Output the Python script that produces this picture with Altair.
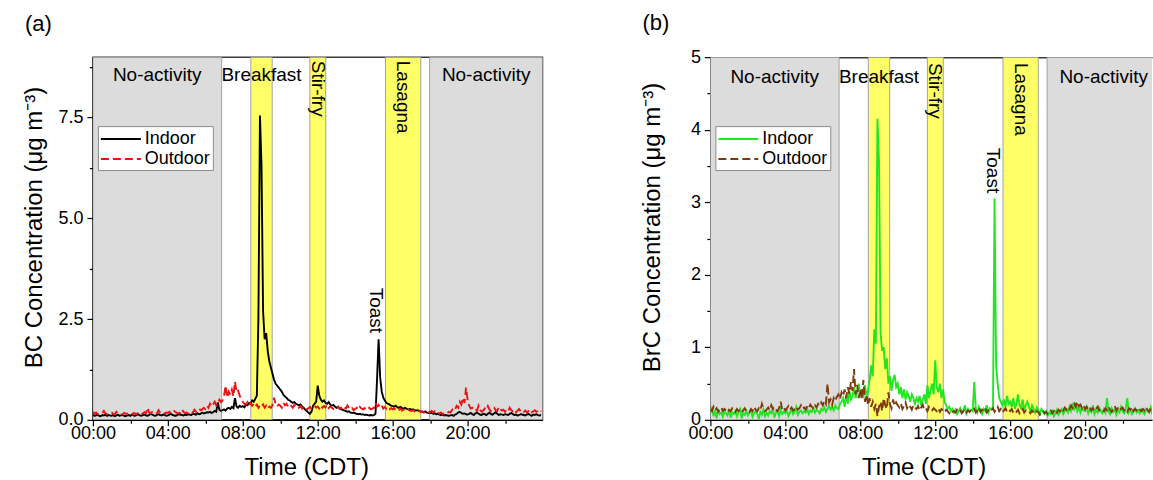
import altair as alt
import pandas as pd

FONT = "Liberation Sans"
STEP_MIN = 5  # one value every 5 minutes, 00:00 .. 23:55

# ---------------- panel (a): BC, 5-min values, one row per hour ----------------
BC_INDOOR = [
    0.12, 0.10, 0.11, 0.13, 0.10, 0.09, 0.12, 0.11, 0.13, 0.10, 0.12, 0.11,
    0.10, 0.12, 0.09, 0.11, 0.13, 0.10, 0.11, 0.12, 0.10, 0.09, 0.11, 0.12,
    0.10, 0.13, 0.11, 0.10, 0.12, 0.14, 0.11, 0.10, 0.12, 0.13, 0.11, 0.10,
    0.12, 0.15, 0.13, 0.11, 0.10, 0.12, 0.14, 0.12, 0.11, 0.13, 0.12, 0.10,
    0.11, 0.13, 0.15, 0.12, 0.11, 0.10, 0.12, 0.14, 0.13, 0.12, 0.11, 0.13,
    0.12, 0.14, 0.13, 0.12, 0.15, 0.14, 0.13, 0.16, 0.14, 0.15, 0.18, 0.16,
    0.17, 0.19, 0.18, 0.20, 0.17, 0.19, 0.22, 0.20, 0.43, 0.25, 0.22, 0.24,
    0.26, 0.23, 0.28, 0.30, 0.27, 0.32, 0.29, 0.54, 0.33, 0.30, 0.35, 0.32,
    0.34, 0.31, 0.38, 0.36, 0.42, 0.40, 0.48, 0.45, 0.52, 0.60, 2.50, 7.55,
    6.30, 2.70, 2.00, 2.15, 1.70, 1.45, 1.30, 1.15, 1.00, 0.90, 0.85, 0.80,
    0.75, 0.70, 0.62, 0.58, 0.55, 0.50, 0.48, 0.45, 0.42, 0.44, 0.40, 0.38,
    0.36, 0.38, 0.33, 0.30, 0.25, 0.22, 0.18, 0.15, 0.20, 0.35, 0.40, 0.45,
    0.85, 0.60, 0.50, 0.45, 0.48, 0.42, 0.40, 0.44, 0.38, 0.35, 0.37, 0.33,
    0.30, 0.32, 0.28, 0.26, 0.25, 0.23, 0.22, 0.20, 0.21, 0.18, 0.17, 0.18,
    0.16, 0.15, 0.14, 0.15, 0.13, 0.14, 0.12, 0.13, 0.12, 0.11, 0.12, 0.11,
    0.12, 0.15, 1.00, 2.00, 1.05, 0.70, 0.55, 0.48, 0.42, 0.40, 0.38, 0.35,
    0.34, 0.33, 0.35, 0.31, 0.30, 0.32, 0.29, 0.28, 0.30, 0.27, 0.26, 0.27,
    0.25, 0.26, 0.24, 0.23, 0.24, 0.22, 0.21, 0.20, 0.19, 0.21, 0.18, 0.17,
    0.18, 0.17, 0.15, 0.16, 0.14, 0.15, 0.13, 0.12, 0.13, 0.11, 0.12, 0.11,
    0.10, 0.11, 0.12, 0.10, 0.13, 0.15, 0.18, 0.20, 0.17, 0.15, 0.16, 0.14,
    0.13, 0.15, 0.17, 0.14, 0.12, 0.16, 0.18, 0.15, 0.13, 0.12, 0.15, 0.14,
    0.12, 0.15, 0.18, 0.14, 0.13, 0.16, 0.19, 0.15, 0.12, 0.14, 0.13, 0.12,
    0.14, 0.13, 0.12, 0.15, 0.17, 0.14, 0.12, 0.13, 0.11, 0.12, 0.14, 0.13,
    0.12, 0.11, 0.13, 0.15, 0.12, 0.10, 0.13, 0.12, 0.14, 0.12, 0.11, 0.12,
]

BC_OUTDOOR = [
    0.20, 0.15, 0.18, 0.14, 0.16, 0.15, 0.17, 0.22, 0.16, 0.14, 0.15, 0.17,
    0.18, 0.15, 0.14, 0.20, 0.16, 0.15, 0.13, 0.14, 0.17, 0.15, 0.16, 0.14,
    0.15, 0.13, 0.17, 0.16, 0.14, 0.18, 0.15, 0.14, 0.16, 0.19, 0.17, 0.30,
    0.18, 0.16, 0.20, 0.17, 0.15, 0.16, 0.24, 0.18, 0.15, 0.17, 0.16, 0.18,
    0.17, 0.20, 0.16, 0.18, 0.22, 0.19, 0.17, 0.16, 0.18, 0.26, 0.20, 0.17,
    0.18, 0.16, 0.19, 0.21, 0.18, 0.25, 0.20, 0.22, 0.28, 0.24, 0.26, 0.30,
    0.27, 0.35, 0.30, 0.40, 0.33, 0.38, 0.45, 0.36, 0.42, 0.50, 0.44, 0.48,
    0.60, 0.85, 0.55, 0.70, 0.62, 0.75, 0.58, 0.95, 0.68, 0.72, 0.60, 0.52,
    0.45, 0.40, 0.38, 0.44, 0.36, 0.42, 0.35, 0.40, 0.33, 0.38, 0.30, 0.36,
    0.32, 0.38, 0.30, 0.35, 0.28, 0.33, 0.30, 0.36, 0.55, 0.40, 0.33, 0.38,
    0.35, 0.30, 0.42, 0.36, 0.40, 0.33, 0.38, 0.35, 0.30, 0.37, 0.32, 0.28,
    0.30, 0.34, 0.28, 0.33, 0.30, 0.26, 0.29, 0.32, 0.27, 0.30, 0.35, 0.30,
    0.33, 0.28, 0.36, 0.30, 0.34, 0.31, 0.38, 0.29, 0.33, 0.30, 0.27, 0.31,
    0.29, 0.33, 0.27, 0.30, 0.25, 0.31, 0.28, 0.36, 0.30, 0.26, 0.29, 0.24,
    0.27, 0.30, 0.25, 0.32, 0.28, 0.26, 0.29, 0.24, 0.27, 0.30, 0.26, 0.28,
    0.30, 0.42, 0.33, 0.37, 0.30, 0.35, 0.28, 0.32, 0.27, 0.30, 0.26, 0.29,
    0.26, 0.29, 0.24, 0.27, 0.25, 0.28, 0.23, 0.26, 0.24, 0.22, 0.25, 0.23,
    0.22, 0.24, 0.21, 0.23, 0.20, 0.22, 0.19, 0.21, 0.18, 0.20, 0.22, 0.19,
    0.20, 0.22, 0.18, 0.21, 0.17, 0.19, 0.15, 0.18, 0.14, 0.16, 0.19, 0.17,
    0.20, 0.18, 0.24, 0.30, 0.26, 0.35, 0.30, 0.45, 0.38, 0.55, 0.42, 0.80,
    0.50, 0.35, 0.28, 0.30, 0.24, 0.27, 0.22, 0.35, 0.25, 0.20, 0.23, 0.28,
    0.24, 0.34, 0.26, 0.22, 0.28, 0.30, 0.24, 0.22, 0.32, 0.27, 0.23, 0.25,
    0.20, 0.26, 0.22, 0.30, 0.24, 0.21, 0.25, 0.19, 0.23, 0.27, 0.21, 0.24,
    0.20, 0.23, 0.18, 0.22, 0.25, 0.19, 0.21, 0.24, 0.20, 0.22, 0.26, 0.21,
]

# ---------------- panel (b): BrC, 5-min values, one row per hour ----------------
BRC_INDOOR = [
    0.10, 0.18, 0.05, 0.12, 0.02, 0.15, 0.08, 0.10, 0.04, 0.12, 0.09, 0.06,
    0.14, 0.03, 0.10, 0.08, 0.12, 0.05, 0.11, 0.15, 0.02, 0.09, 0.07, 0.12,
    0.06, 0.10, 0.13, 0.04, 0.09, 0.12, 0.08, 0.02, 0.11, 0.07, 0.14, 0.05,
    0.10, 0.06, 0.12, 0.09, 0.15, 0.03, 0.10, 0.12, 0.05, 0.14, 0.08, 0.11,
    0.09, 0.13, 0.05, 0.10, 0.15, 0.08, 0.12, 0.18, 0.07, 0.11, 0.13, 0.09,
    0.12, 0.10, 0.15, 0.08, 0.13, 0.11, 0.16, 0.10, 0.14, 0.12, 0.09, 0.15,
    0.13, 0.17, 0.11, 0.15, 0.19, 0.14, 0.18, 0.13, 0.20, 0.16, 0.15, 0.22,
    0.25, 0.30, 0.18, 0.35, 0.22, 0.40, 0.28, 0.33, 0.45, 0.30, 0.38, 0.50,
    0.35, 0.42, 0.30, 0.48, 0.33, 0.40, 0.55, 0.75, 0.60, 1.25, 1.05, 4.15,
    3.55, 1.20, 0.95, 1.00, 0.70, 0.85, 0.50, 0.60, 0.40, 0.55, 0.62, 0.45,
    0.50, 0.35, 0.45, 0.30, 0.42, 0.28, 0.38, 0.33, 0.25, 0.35, 0.30, 0.22,
    0.30, 0.25, 0.33, 0.20, 0.28, 0.35, 0.22, 0.48, 0.30, 0.40, 0.50, 0.35,
    0.82, 0.45, 0.38, 0.50, 0.30, 0.42, 0.25, 0.20, 0.15, 0.18, 0.12, 0.15,
    0.10, 0.14, 0.08, 0.12, 0.16, 0.10, 0.13, 0.20, 0.09, 0.15, 0.11, 0.14,
    0.12, 0.52, 0.15, 0.10, 0.18, 0.13, 0.08, 0.15, 0.12, 0.20, 0.10, 0.16,
    0.14, 0.18, 3.05, 0.75, 0.50, 0.30, 0.25, 0.20, 0.28, 0.18, 0.33, 0.22,
    0.25, 0.18, 0.30, 0.15, 0.22, 0.35, 0.20, 0.16, 0.28, 0.14, 0.20, 0.25,
    0.18, 0.12, 0.20, 0.15, 0.10, 0.17, 0.13, 0.09, 0.15, 0.11, 0.08, 0.12,
    0.06, 0.10, 0.08, 0.12, 0.05, 0.09, 0.14, 0.07, 0.11, 0.15, 0.08, 0.12,
    0.14, 0.10, 0.18, 0.12, 0.20, 0.15, 0.24, 0.12, 0.18, 0.10, 0.16, 0.13,
    0.12, 0.18, 0.09, 0.15, 0.11, 0.20, 0.08, 0.14, 0.10, 0.17, 0.12, 0.09,
    0.15, 0.10, 0.30, 0.12, 0.08, 0.16, 0.11, 0.14, 0.07, 0.13, 0.10, 0.18,
    0.12, 0.09, 0.15, 0.30, 0.10, 0.14, 0.08, 0.12, 0.16, 0.10, 0.13, 0.09,
    0.14, 0.11, 0.08, 0.15, 0.12, 0.10, 0.17, 0.09, 0.13, 0.11, 0.14, 0.12,
]

BRC_OUTDOOR = [
    0.15, 0.12, 0.18, 0.13, 0.16, 0.11, 0.14, 0.17, 0.12, 0.15, 0.13, 0.10,
    0.14, 0.12, 0.16, 0.13, 0.11, 0.15, 0.12, 0.14, 0.10, 0.13, 0.16, 0.12,
    0.13, 0.11, 0.15, 0.12, 0.18, 0.14, 0.12, 0.16, 0.13, 0.22, 0.15, 0.12,
    0.14, 0.17, 0.13, 0.20, 0.15, 0.18, 0.14, 0.12, 0.16, 0.25, 0.14, 0.17,
    0.13, 0.16, 0.19, 0.14, 0.17, 0.13, 0.15, 0.18, 0.14, 0.16, 0.20, 0.15,
    0.17, 0.14, 0.19, 0.16, 0.21, 0.18, 0.15, 0.20, 0.17, 0.22, 0.19, 0.24,
    0.20, 0.26, 0.22, 0.50, 0.24, 0.28, 0.21, 0.30, 0.26, 0.32, 0.35, 0.28,
    0.38, 0.33, 0.42, 0.30, 0.45, 0.36, 0.52, 0.40, 0.70, 0.35, 0.48, 0.30,
    0.42, 0.28, 0.55, 0.25, 0.35, 0.20, 0.30, 0.18, 0.25, 0.15, 0.22, 0.05,
    0.18, 0.25, 0.12, 0.30, 0.20, 0.15, 0.38, 0.22, 0.16, 0.28, 0.19, 0.24,
    0.20, 0.17, 0.22, 0.15, 0.19, 0.24, 0.16, 0.21, 0.18, 0.14, 0.20, 0.17,
    0.15, 0.19, 0.13, 0.17, 0.21, 0.14, 0.16, 0.12, 0.18, 0.15, 0.13, 0.16,
    0.14, 0.12, 0.16, 0.11, 0.15, 0.13, 0.10, 0.14, 0.12, 0.09, 0.13, 0.11,
    0.12, 0.10, 0.14, 0.11, 0.13, 0.09, 0.12, 0.15, 0.10, 0.13, 0.11, 0.14,
    0.12, 0.15, 0.10, 0.13, 0.17, 0.11, 0.14, 0.12, 0.16, 0.10, 0.13, 0.15,
    0.13, 0.16, 0.11, 0.14, 0.18, 0.12, 0.15, 0.10, 0.13, 0.16, 0.11, 0.14,
    0.12, 0.15, 0.10, 0.13, 0.11, 0.14, 0.09, 0.12, 0.15, 0.10, 0.13, 0.11,
    0.12, 0.09, 0.13, 0.10, 0.08, 0.12, 0.11, 0.07, 0.10, 0.13, 0.09, 0.11,
    0.08, 0.11, 0.13, 0.09, 0.12, 0.15, 0.10, 0.14, 0.12, 0.16, 0.13, 0.17,
    0.14, 0.18, 0.15, 0.20, 0.16, 0.22, 0.18, 0.25, 0.19, 0.21, 0.16, 0.20,
    0.15, 0.18, 0.14, 0.17, 0.13, 0.16, 0.12, 0.15, 0.18, 0.13, 0.16, 0.14,
    0.12, 0.16, 0.13, 0.18, 0.14, 0.11, 0.15, 0.19, 0.13, 0.16, 0.12, 0.15,
    0.17, 0.13, 0.15, 0.11, 0.16, 0.14, 0.18, 0.12, 0.15, 0.13, 0.17, 0.14,
    0.12, 0.15, 0.13, 0.17, 0.14, 0.11, 0.16, 0.13, 0.15, 0.12, 0.18, 0.14,
]

# ---------------- activity periods (hours of day) ----------------
PERIOD_START = [0.0, 8.43, 11.58, 15.62, 17.97]
PERIOD_END = [6.87, 9.57, 12.43, 17.50, 24.0]
PERIOD_FILL = ["#dcdcdc", "#ffff66", "#ffff66", "#ffff66", "#dcdcdc"]

H_LABELS = ["No-activity", "Breakfast", "No-activity"]
H_LABEL_X = [3.43, 9.0, 20.99]
V_LABELS = ["Stir-fry", "Lasagna", "Toast"]
V_LABEL_X = [12.0, 16.56, 15.1]

SERIES = ["Indoor", "Outdoor"]
X_MAJOR = [0, 4, 8, 12, 16, 20]
X_MINOR = [2, 6, 10, 14, 18, 22]


def panel(tag, ytitle, indoor, outdoor, colors, ymax, y_major, y_minor, label_fmt,
          x_max, width, h_y, v_y, ytitle_x, boxed, title_offset):
    n = len(indoor)
    times = [i * STEP_MIN / 60 for i in range(n)]
    xs = alt.Scale(domain=[0, x_max], nice=False, zero=False)
    ys = alt.Scale(domain=[0, ymax], nice=False, zero=False)

    common = dict(tickColor="black", tickWidth=1.2, grid=False, labelFont=FONT,
                  labelFontSize=18, labelColor="black", labelFlush=False, labelOverlap=False)

    x_axis = alt.Axis(
        orient="bottom", values=X_MAJOR, tickSize=6, domainColor="black", domainWidth=1.5,
        labelExpr="(datum.value < 10 ? '0' : '') + datum.value + ':00'",
        labelPadding=13, labelBaseline="alphabetic",
        title="Time (CDT)", titleFont=FONT, titleFontSize=24, titleFontWeight="normal",
        titleColor="black", titleX=213.5, titleY=55, titleAlign="center",
        titleBaseline="alphabetic", **common,
    )
    x_minor_axis = alt.Axis(orient="bottom", values=X_MINOR, tickSize=3.5, labels=False,
                            domain=False, title=None, **common)
    y_axis = alt.Axis(
        orient="left", values=y_major, tickSize=6, domainColor="black", domainWidth=1.5,
        format=label_fmt, labelPadding=4,
        title=ytitle, titleFont=FONT, titleFontSize=24, titleFontWeight="normal",
        titleColor="black", titleX=ytitle_x, titleY=170, titleAngle=270,
        titleAlign="center", titleBaseline="middle", **common,
    )
    y_minor_axis = alt.Axis(orient="left", values=y_minor, tickSize=3.5, labels=False,
                            domain=False, title=None, **common)
    top_axis = alt.Axis(orient="top", labels=False, ticks=False, domain=True,
                        domainColor="#3c3c3c", domainWidth=1.5, title=None, grid=False)

    bands = pd.DataFrame({"start": PERIOD_START, "end": PERIOD_END, "fill": PERIOD_FILL,
                          "y0": [0] * 5, "y1": [ymax] * 5})
    band_layer = alt.Chart(bands).mark_rect(stroke="#a3a3a3", strokeWidth=1, clip=True).encode(
        x=alt.X("start:Q", scale=xs, axis=x_minor_axis),
        x2="end:Q",
        y=alt.Y("y0:Q", scale=ys, axis=y_minor_axis),
        y2="y1:Q",
        fill=alt.Fill("fill:N", scale=None),
    )

    hlab = pd.DataFrame({"x": H_LABEL_X, "y": [h_y] * 3, "label": H_LABELS})
    vlab = pd.DataFrame({"x": V_LABEL_X, "y": v_y, "label": V_LABELS})
    h_layer = alt.Chart(hlab).mark_text(font=FONT, fontSize=19, color="black", align="center",
                                        baseline="alphabetic").encode(
        x=alt.X("x:Q", scale=xs, axis=None if boxed else top_axis),
        y=alt.Y("y:Q", scale=ys, axis=None), text="label:N")
    v_layer = alt.Chart(vlab).mark_text(font=FONT, fontSize=19, color="black", align="left",
                                        baseline="middle", angle=90).encode(
        x=alt.X("x:Q", scale=xs, axis=None), y=alt.Y("y:Q", scale=ys, axis=None), text="label:N")

    legend = alt.Legend(
        title=None, orient="none", legendX=5, legendY=69, direction="vertical",
        symbolType="M-1,0L3,0", symbolSize=400, symbolStrokeWidth=2,
        labelFont=FONT, labelFontSize=18, labelColor="black", labelOffset=23,
        padding=2, rowPadding=0, strokeColor="#8c8c8c", fillColor="white", cornerRadius=0,
    )
    color = alt.Color("series:N", scale=alt.Scale(domain=SERIES, range=colors), legend=legend)
    dash = alt.StrokeDash("series:N", scale=alt.Scale(domain=SERIES, range=[[1, 0], [8, 4]]),
                          legend=legend)

    df_in = pd.DataFrame({"t": times, "v": indoor, "series": ["Indoor"] * n})
    df_out = pd.DataFrame({"t": times, "v": outdoor, "series": ["Outdoor"] * n})
    in_layer = alt.Chart(df_in).mark_line(strokeWidth=1.9, clip=True).encode(
        x=alt.X("t:Q", scale=xs, axis=x_axis), y=alt.Y("v:Q", scale=ys, axis=y_axis),
        color=color, strokeDash=dash)
    out_layer = alt.Chart(df_out).mark_line(strokeWidth=1.9, clip=True).encode(
        x=alt.X("t:Q", scale=xs, axis=None), y=alt.Y("v:Q", scale=ys, axis=None),
        color=color, strokeDash=dash)

    view = (alt.ViewBackground(stroke="#3c3c3c", strokeWidth=1.5) if boxed
            else alt.ViewBackground(stroke="transparent"))
    return alt.layer(band_layer, h_layer, v_layer, in_layer, out_layer).resolve_axis(
        x="independent", y="independent"
    ).properties(
        width=width, height=363, view=view,
        title=alt.TitleParams(text=tag, anchor="start", frame="group", dx=-68,
                              offset=title_offset, fontSize=22, font=FONT,
                              fontWeight="normal", color="black", baseline="alphabetic"),
    )


pa = panel("(a)", "BC Concentration (μg m⁻³)", BC_INDOOR, BC_OUTDOOR, ["#000000", "#ee1111"],
           9.0, [0, 2.5, 5.0, 7.5], [1.25, 3.75, 6.25, 8.75], ".1f",
           24.0, 450, 8.42, [8.91, 8.91, 3.28], -58, True, 4)
pb = panel("(b)", "BrC Concentration (μg m⁻³)", BRC_INDOOR, BRC_OUTDOOR, ["#22e622", "#7b3b0c"],
           5.0, [0, 1, 2, 3, 4, 5], [0.5, 1.5, 2.5, 3.5, 4.5], "d",
           23.57, 442, 4.65, [4.92, 4.92, 3.75], -58, False, -4)

chart = alt.hconcat(pa, pb, spacing=96).resolve_scale(
    x="independent", y="independent", color="independent", strokeDash="independent"
).resolve_legend(color="independent", strokeDash="independent").properties(
    padding={"left": 22, "top": 11, "right": 0, "bottom": 0}
).configure(font=FONT)

chart.save("out.html", embed_options={"renderer": "svg", "actions": False})
